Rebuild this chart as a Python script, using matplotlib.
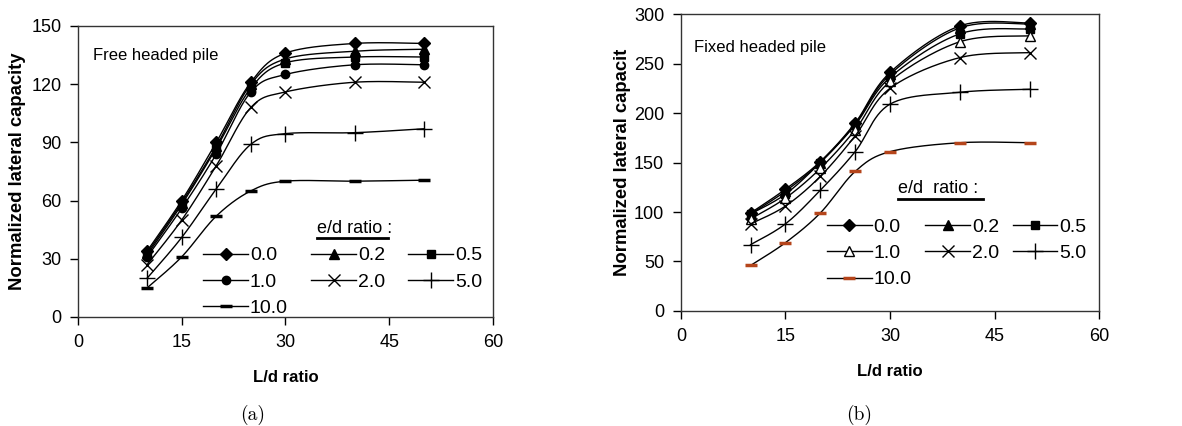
import numpy as np
import matplotlib
matplotlib.use('Agg')
import matplotlib.pyplot as plt
from matplotlib.lines import Line2D

plt.rcParams['font.family'] = ['Liberation Sans', 'DejaVu Sans']

# data
ld_ratio = [10, 15, 20, 25, 30, 40, 50]
ed_labels = ['0.0', '0.2', '0.5', '1.0', '2.0', '5.0', '10.0']

free_00 = [34, 60, 90, 121, 136, 141, 141]
free_02 = [33, 59, 88, 120, 133, 137, 138]
free_05 = [32, 58, 87, 118, 131, 134, 134]
free_10 = [31, 56, 84, 116, 125, 130, 130]
free_20 = [27, 50, 78, 108, 116, 121, 121]
free_50 = [20, 41, 66, 89, 94.5, 95, 97]
free_100 = [15, 31, 52, 65, 70, 70, 70.5]

fixed_00 = [99, 123, 151, 190, 241, 288, 291]
fixed_02 = [98, 121, 150, 189, 239, 286, 290]
fixed_05 = [98, 118, 150, 188, 236, 280, 285]
fixed_10 = [93, 114, 144, 183, 232, 272, 278]
fixed_20 = [88, 106, 136, 177, 225, 256, 261]
fixed_50 = [67, 88, 122, 161, 209, 221, 224]
fixed_100 = [46, 69, 99, 141, 161, 170, 170]

free_series = [free_00, free_02, free_05, free_10, free_20, free_50, free_100]
fixed_series = [fixed_00, fixed_02, fixed_05, fixed_10, fixed_20, fixed_50, fixed_100]


def smooth(x, y, n=30):
    # excel-like smoothed line (catmull-rom bezier)
    x = np.asarray(x, float)
    y = np.asarray(y, float)
    p = np.column_stack([x, y])
    p = np.vstack([p[0], p, p[-1]])
    out = []
    t = np.linspace(0, 1, n)[:, None]
    for i in range(1, len(p) - 2):
        p0, p1, p2, p3 = p[i - 1], p[i], p[i + 1], p[i + 2]
        c1 = p1 + (p2 - p0) / 6
        c2 = p2 - (p3 - p1) / 6
        b = ((1 - t) ** 3) * p1 + 3 * ((1 - t) ** 2) * t * c1 + 3 * (1 - t) * t ** 2 * c2 + t ** 3 * p2
        out.append(b)
    out = np.vstack(out)
    return out[:, 0], out[:, 1]


def draw(ax, series, styles, ymax, ystep, title, ylabel, ylabel_x, ylabel_fs,
         leg_anchor, colspace, leg_title_xy, underline):
    for vals, st in zip(series, styles):
        sx, sy = smooth(ld_ratio, vals)
        ax.plot(sx, sy, color='black', lw=1.0)
        ax.plot(ld_ratio, vals, linestyle='none', **st)
    handles = [Line2D([], [], color='black', lw=1.0, **st) for st in styles]
    order = [0, 3, 6, 1, 4, 2, 5]
    ax.legend([handles[i] for i in order], [ed_labels[i] for i in order],
              ncol=3, loc='upper left', bbox_to_anchor=leg_anchor, frameon=False,
              fontsize=14, handlelength=2.3, handletextpad=0.1, columnspacing=colspace,
              labelspacing=0.45, borderpad=0, borderaxespad=0)
    ax.text(leg_title_xy[0], leg_title_xy[1], title[1], transform=ax.transAxes,
            fontsize=13, ha='left', va='baseline')
    ax.plot(underline[0], underline[1], transform=ax.transAxes, color='black', lw=2, clip_on=False)
    ax.text(*title[2], title[0], transform=ax.transAxes, fontsize=12, ha='left', va='center')

    ax.set_xlim(0, 60)
    ax.set_ylim(0, ymax)
    ax.set_xticks(range(0, 61, 15))
    ax.set_yticks(np.arange(0, ymax + 1, ystep))
    ax.tick_params(direction='out', length=6, width=1, labelsize=13, pad=6)
    ax.set_xlabel('L/d ratio', fontsize=12, fontweight='bold', labelpad=14)
    ax.set_ylabel(ylabel, fontsize=ylabel_fs, fontweight='bold')
    ax.yaxis.set_label_coords(ylabel_x, 0.5)
    for s in ax.spines.values():
        s.set_color('#333333')
        s.set_linewidth(1.0)


fig = plt.figure(figsize=(11.82, 4.26), dpi=100)
ax1 = fig.add_axes([0.066, 0.256, 0.351, 0.683])
ax2 = fig.add_axes([0.576, 0.270, 0.354, 0.697])

free_styles = [
    dict(marker='D', ms=6, mfc='black', mec='black'),
    dict(marker='^', ms=7, mfc='black', mec='black'),
    dict(marker='s', ms=6, mfc='black', mec='black'),
    dict(marker='o', ms=6, mfc='black', mec='black'),
    dict(marker='x', ms=8, mec='black', mew=1.0),
    dict(marker='+', ms=11, mec='black', mew=1.0),
    dict(marker='_', ms=8, mec='black', mew=2.5),
]
fixed_styles = [
    dict(marker='D', ms=6, mfc='black', mec='black'),
    dict(marker='^', ms=7, mfc='black', mec='black'),
    dict(marker='s', ms=6, mfc='black', mec='black'),
    dict(marker='^', ms=7, mfc='white', mec='black'),
    dict(marker='x', ms=8, mec='black', mew=1.0),
    dict(marker='+', ms=11, mec='black', mew=1.0),
    dict(marker='_', ms=8, mec='#b5451b', mew=2.5),
]

draw(ax1, free_series, free_styles, 150, 30,
     ('Free headed pile', 'e/d ratio :', (0.036, 0.90)),
     'Normalized lateral capacity', -0.125, 13.3,
     (0.302, 0.241), 1.2, (0.576, 0.289), ([0.576, 0.747], [0.272, 0.272]))
draw(ax2, fixed_series, fixed_styles, 300, 50,
     ('Fixed headed pile', 'e/d  ratio :', (0.031, 0.886)),
     'Normalized lateral capacit', -0.118, 13.3,
     (0.349, 0.313), 0.7, (0.519, 0.397), ([0.519, 0.722], [0.378, 0.378]))

fig.text(0.214, 0.026, '(a)', fontsize=14, family='cmr10', ha='center', va='center')
fig.text(0.727, 0.026, '(b)', fontsize=14, family='cmr10', ha='center', va='center')

fig.savefig('out.png', dpi=100)
